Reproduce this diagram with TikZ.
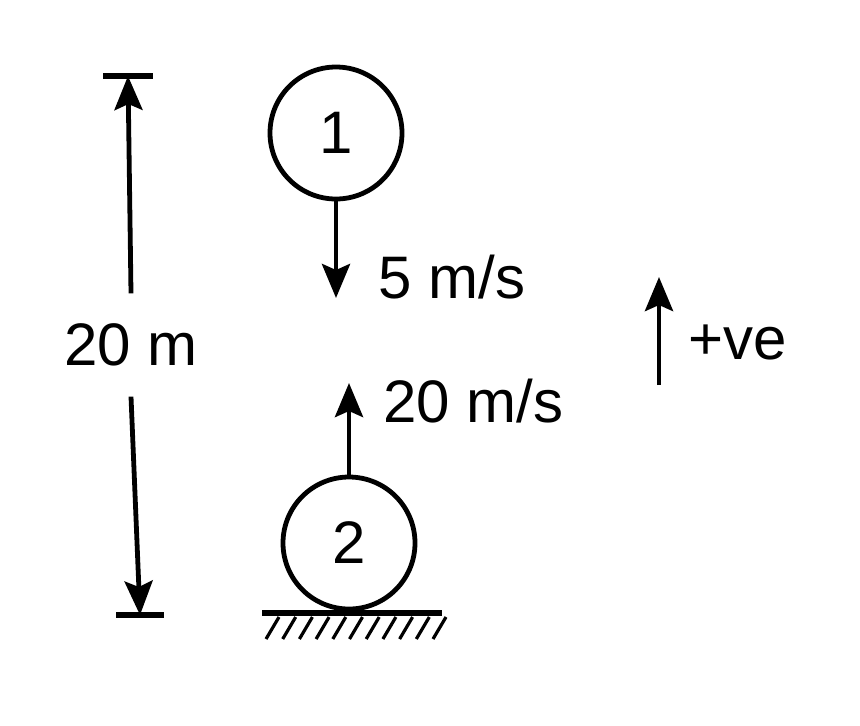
\documentclass[tikz,border=0pt]{standalone}
\usepackage{fontspec}
\setmainfont{Liberation Sans}
\usetikzlibrary{arrows.meta}
\begin{document}
\begin{tikzpicture}[x=0.5pt,y=-0.5pt,
  lbl/.style={font=\fontsize{30}{36}\selectfont,inner sep=0pt},
  ball/.style={circle,draw,line width=2.4pt,minimum size=66pt,inner sep=0pt,font=\fontsize{30}{36}\selectfont},
  vel/.style={line width=2.4pt,-{Stealth[length=17pt,width=14pt,inset=3pt]}},
  bar/.style={line width=3.2pt}]
\useasboundingbox (0,0) rectangle (860,725);
% the two balls
\node[ball] (ball1) at (336,133) {1};
\node[ball] (ball2) at (349,543) {2};
% their velocities
\coordinate (v1) at (336,298);
\coordinate (v2) at (349,383);
\draw[vel] (ball1.south) -- (v1);
\draw[vel] (ball2.north) -- (v2);
\node[lbl,anchor=west] (v1lbl) at (378,277) {5 m/s};
\node[lbl,anchor=west] (v2lbl) at (383,401) {20 m/s};
% the ground
\coordinate (gl) at (262,613);
\coordinate (gr) at (442,613);
\draw[bar] (gl) -- (gr);
\foreach \i in {0,...,10}
  \draw[line width=1.6pt] (266+16.7*\i,639) -- (279+16.7*\i,617);
% the height
\coordinate (dtop) at (128,76);
\coordinate (dbot) at (140,615);
\draw[bar] (dtop) ++(-25,0) -- ++(50,0);
\draw[bar] (dbot) ++(-24,0) -- ++(48,0);
\node[lbl,inner sep=15pt] (dim) at (131,345) {20 m};
\draw[vel] (dim.north) -- (dtop);
\draw[vel] (dim.south) -- (dbot);
% sign convention
\coordinate (pb) at (659,385);
\coordinate (pt) at (659,277);
\draw[vel] (pb) -- (pt);
\node[lbl,anchor=west] (pos) at (688,342) {+ve};
\end{tikzpicture}
\end{document}
